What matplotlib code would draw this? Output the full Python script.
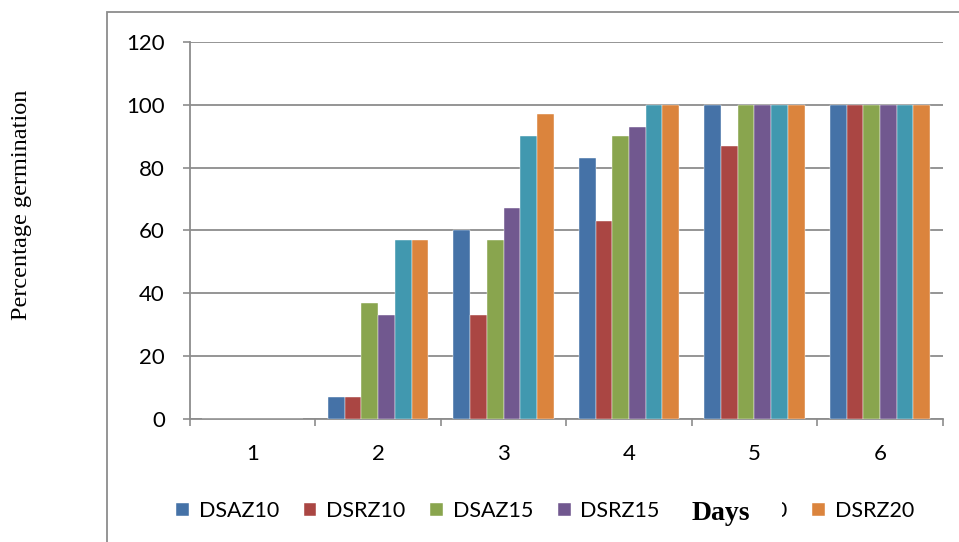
import numpy as np
import matplotlib
matplotlib.use('Agg')
import matplotlib.pyplot as plt
from matplotlib.patches import Rectangle

# data
days = [1, 2, 3, 4, 5, 6]
series_names = ['DSAZ10', 'DSRZ10', 'DSAZ15', 'DSRZ15', 'DSAZ20', 'DSRZ20']
dsaz10 = [0, 7, 60, 83, 100, 100]
dsrz10 = [0, 7, 33, 63, 87, 100]
dsaz15 = [0, 37, 57, 90, 100, 100]
dsrz15 = [0, 33, 67, 93, 100, 100]
dsaz20 = [0, 57, 90, 100, 100, 100]
dsrz20 = [0, 57, 97, 100, 100, 100]
colors = ['#4572A7', '#AA4643', '#89A54E', '#71588F', '#4198AF', '#DB843D']

all_series = [dsaz10, dsrz10, dsaz15, dsrz15, dsaz20, dsrz20]

plt.rcParams['font.family'] = ['Lato', 'DejaVu Sans']

fig = plt.figure(figsize=(9.59, 5.42), dpi=100)
ax = fig.add_axes([0.198, 0.227, 0.785, 0.6955])

x = np.array(days)
w = 0.8 / 6
for i, (vals, name, c) in enumerate(zip(all_series, series_names, colors)):
    ax.bar(x + (i - 2.5) * w, vals, width=w, color=c, label=name,
           edgecolor='white', linewidth=0.3, zorder=3)

ax.set_xlim(0.5, 6.5)
ax.set_ylim(0, 120)
ax.set_yticks(range(0, 121, 20))
ax.set_xticks(days)
ax.set_xticks(np.arange(0.5, 6.6, 1), minor=True)
ax.tick_params(axis='x', which='major', length=0, pad=18, labelsize=16)
ax.tick_params(axis='x', which='minor', length=5, width=1.2, color='#8c8c8c', direction='out')
ax.tick_params(axis='y', length=5, width=1.2, color='#8c8c8c', direction='out', pad=13, labelsize=16)
ax.yaxis.grid(True, color='#8c8c8c', linewidth=1.3, zorder=0)
ax.set_axisbelow(True)
for s in ['top', 'right']:
    ax.spines[s].set_visible(False)
for s in ['left', 'bottom']:
    ax.spines[s].set_color('#8c8c8c')
    ax.spines[s].set_linewidth(1.3)

# outer chart frame, cut off by the image edges
fig.patches.append(Rectangle((107 / 959, -0.1), 1.0, 1.1 - 12 / 542, transform=fig.transFigure,
                             fill=False, edgecolor='#8c8c8c', linewidth=1.3))

fig.text(22 / 959, 1 - 205 / 542, 'Percentage germination', rotation=90,
         family='Liberation Serif', fontsize=17.5, ha='center', va='center')

leg = fig.legend(loc='center', bbox_to_anchor=(545 / 959, 1 - 511 / 542), ncol=6, frameon=False,
                 fontsize=15.5, handlelength=0.6, handleheight=0.6, handletextpad=0.45,
                 columnspacing=1.15)

# the axis title sits on top of one legend entry, with a white box behind it
fig.canvas.draw()
tb = leg.get_texts()[4].get_window_extent()
hb = leg.legend_handles[4].get_window_extent()
x0 = hb.x0 - 4
x1 = tb.x1 - 5
fig.patches.append(Rectangle((x0 / 959, 1 - 532 / 542), (x1 - x0) / 959, 40 / 542,
                             transform=fig.transFigure, facecolor='white',
                             edgecolor='none', zorder=10))
fig.text(721 / 959, 1 - 513 / 542, 'Days', family='Liberation Serif', fontweight='bold',
         fontsize=20, ha='center', va='center', zorder=11)

fig.savefig('out.png', dpi=100)
